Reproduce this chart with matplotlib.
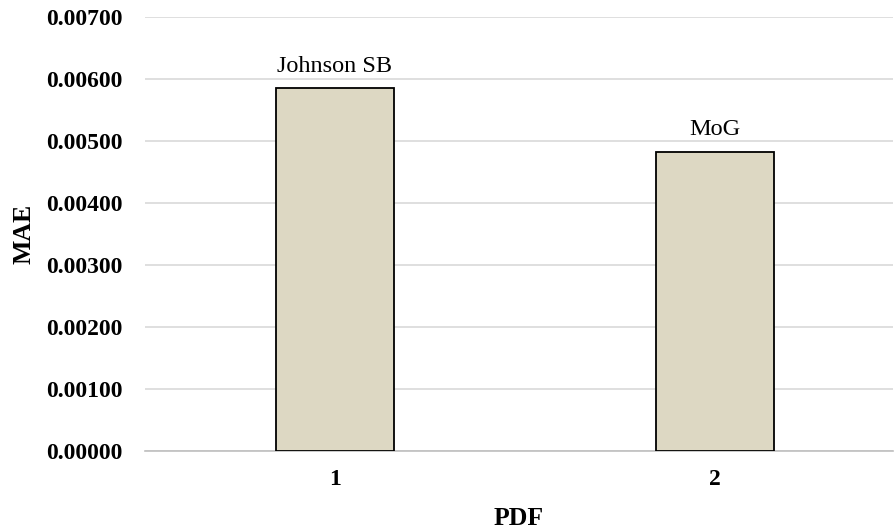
import matplotlib
matplotlib.use("Agg")
import matplotlib.pyplot as plt

categories = ["1", "2"]
mae_values = [0.00585, 0.00483]
bar_labels = ["Johnson SB", "MoG"]
y_ticks = [0.0, 0.001, 0.002, 0.003, 0.004, 0.005, 0.006, 0.007]

plt.rcParams["font.family"] = ["Liberation Serif", "DejaVu Serif"]

fig = plt.figure(figsize=(8.95, 5.31), dpi=100)
ax = fig.add_axes([0.162, 0.1507, 0.836, 0.8173])

x = list(range(len(categories)))
bars = ax.bar(x, mae_values, width=0.31, color="#DDD8C3", edgecolor="black",
              linewidth=1.3, zorder=3)

for xi, v, lab in zip(x, mae_values, bar_labels):
    ax.annotate(lab, (xi, v), xytext=(0, 8), textcoords="offset points",
                ha="center", va="bottom", fontsize=17.5)

ax.set_xlim(-0.5, 1.47)
ax.set_ylim(0, 0.007)
ax.set_yticks(y_ticks)
ax.set_yticklabels([f"{t:.5f}" for t in y_ticks], fontsize=17, fontweight="bold")
ax.set_xticks(x)
ax.set_xticklabels(categories, fontsize=17, fontweight="bold")
ax.tick_params(axis="both", length=0)
ax.tick_params(axis="y", pad=16)
ax.tick_params(axis="x", pad=13)

ax.grid(axis="y", color="#D9D9D9", linewidth=1.2, zorder=0)
for s in ["top", "right", "left"]:
    ax.spines[s].set_visible(False)
ax.spines["bottom"].set_color("#BFBFBF")
ax.spines["bottom"].set_linewidth(1.2)

ax.set_ylabel("MAE", fontsize=18.5, fontweight="bold", labelpad=8)
ax.set_xlabel("PDF", fontsize=18.5, fontweight="bold", labelpad=12)

fig.savefig("out.png", dpi=100)
